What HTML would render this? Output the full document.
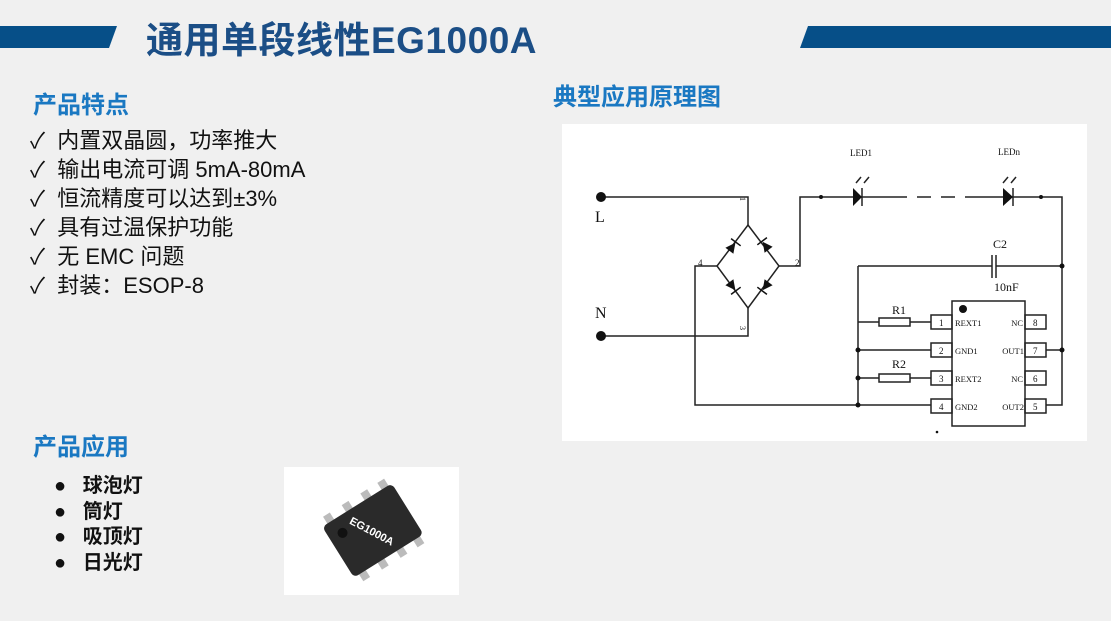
<!DOCTYPE html>
<html><head><meta charset="utf-8">
<style>
body{margin:0;width:1111px;height:621px;background:#f0f0f0;position:relative;overflow:hidden;font-family:"Liberation Sans","Noto Sans CJK SC",sans-serif}
.a{position:absolute;white-space:nowrap}
.h{color:#1a78c2;font-weight:bold;font-size:24px}
.f{font-size:22px;color:#111;line-height:29px}
.p{font-size:20px;font-weight:bold;color:#111}
.p div{height:25.7px;line-height:25.7px}
</style></head><body>
<svg class="a" style="left:0;top:0" width="1111" height="60">
<polygon points="0,26 117,26 109,48 0,48" fill="#064f88"/>
<polygon points="808,26 1111,26 1111,48 800,48" fill="#064f88"/>
</svg>
<div class="a" style="left:146px;top:10px;font-size:37px;font-weight:bold;color:#1b4e86;letter-spacing:0.5px">通用单段线性EG1000A</div>
<div class="a h" style="left:33px;top:85px">产品特点</div>
<div class="a f" style="left:30px;top:126px">
✓&nbsp; 内置双晶圆，功率推大<br>✓&nbsp; 输出电流可调 5mA-80mA<br>✓&nbsp; 恒流精度可以达到±3%<br>✓&nbsp; 具有过温保护功能<br>✓&nbsp; 无 EMC 问题<br>✓&nbsp; 封装：ESOP-8</div>
<div class="a h" style="left:33px;top:427px">产品应用</div>
<div class="a p" style="left:54px;top:474px"><div>●&nbsp;&nbsp; 球泡灯</div><div>●&nbsp;&nbsp; 筒灯</div><div>●&nbsp;&nbsp; 吸顶灯</div><div>●&nbsp;&nbsp; 日光灯</div></div>
<div class="a h" style="left:553px;top:77px">典型应用原理图</div>
<div class="a" style="left:284px;top:467px;width:175px;height:128px;background:#fff"></div>
<svg class="a" style="left:284px;top:467px" width="175" height="128">
<g transform="translate(88,64) rotate(-32)">
<g fill="#bbb"><rect x="-34" y="-38" width="8" height="10"/><rect x="-12" y="-38" width="8" height="10"/><rect x="10" y="-38" width="8" height="10"/><rect x="30" y="-38" width="8" height="10"/>
<rect x="-34" y="28" width="8" height="10"/><rect x="-12" y="28" width="8" height="10"/><rect x="10" y="28" width="8" height="10"/><rect x="30" y="28" width="8" height="10"/></g>
<rect x="-40" y="-30" width="82" height="60" rx="5" fill="#2a2a2a"/>
<circle cx="-26" cy="-14" r="5" fill="#111"/>
<text x="0" y="4" fill="#fff" font-size="11" font-weight="bold" text-anchor="middle" transform="rotate(60)" font-family="Liberation Sans">EG1000A</text>
</g></svg>
<svg class="a" style="left:0;top:0" width="1111" height="621" font-family="Liberation Serif" font-size="9">
<rect x="562" y="124" width="525" height="317" fill="#fff"/>
<g stroke="#222" stroke-width="1.5" fill="none">
<polyline points="601,197 748,197 748,225"/>
<polyline points="601,336 748,336 748,308"/>
<polygon points="748,225 779,266 748,308 717,266"/>
<polyline points="717,266 695,266 695,405 931,405"/>
<polyline points="779,266 800,266 800,197 893,197"/>
<line x1="893" y1="197" x2="968" y2="197" stroke-dasharray="14,10"/>
<polyline points="968,197 1062,197 1062,405 1046,405"/>
<line x1="858" y1="266" x2="992" y2="266"/><line x1="996" y1="266" x2="1062" y2="266"/>
<line x1="992" y1="255" x2="992" y2="278"/><line x1="996" y1="255" x2="996" y2="278"/>
<line x1="858" y1="266" x2="858" y2="405"/>
<line x1="858" y1="322" x2="879" y2="322"/><rect x="879" y="318" width="31" height="8"/><line x1="910" y1="322" x2="931" y2="322"/>
<line x1="858" y1="350" x2="931" y2="350"/>
<line x1="858" y1="378" x2="879" y2="378"/><rect x="879" y="374" width="31" height="8"/><line x1="910" y1="378" x2="931" y2="378"/>
<line x1="1046" y1="350" x2="1062" y2="350"/>
<rect x="952" y="301" width="73" height="125"/>
<rect x="931" y="315" width="21" height="14"/><rect x="931" y="343" width="21" height="14"/><rect x="931" y="371" width="21" height="14"/><rect x="931" y="399" width="21" height="14"/>
<rect x="1025" y="315" width="21" height="14"/><rect x="1025" y="343" width="21" height="14"/><rect x="1025" y="371" width="21" height="14"/><rect x="1025" y="399" width="21" height="14"/>
<line x1="862" y1="188" x2="862" y2="206"/><line x1="1013" y1="188" x2="1013" y2="206"/>
<line x1="856" y1="183" x2="861" y2="177"/><line x1="864" y1="183" x2="869" y2="177"/>
<line x1="1003" y1="183" x2="1008" y2="177"/><line x1="1011" y1="183" x2="1016" y2="177"/>
</g>
<g fill="#111">
<circle cx="601" cy="197" r="5"/><circle cx="601" cy="336" r="5"/>
<polygon points="853,188 853,206 862,197"/><polygon points="1003,188 1003,206 1013,197"/>
<circle cx="821" cy="197" r="2"/><circle cx="1041" cy="197" r="2"/>
<circle cx="1062" cy="266" r="2.5"/><circle cx="1062" cy="350" r="2.5"/>
<circle cx="858" cy="350" r="2.5"/><circle cx="858" cy="378" r="2.5"/><circle cx="858" cy="405" r="2.5"/>
<circle cx="963" cy="309" r="4"/><circle cx="937" cy="432" r="1.3"/>
<g transform="translate(733,246) rotate(-53)"><polygon points="-6,-5 -6,5 4,0"/><rect x="4" y="-6" width="1.5" height="12"/></g>
<g transform="translate(765,245) rotate(53)"><polygon points="6,-5 6,5 -4,0"/><rect x="-5.5" y="-6" width="1.5" height="12"/></g>
<g transform="translate(733,287) rotate(-127)"><polygon points="6,-5 6,5 -4,0"/><rect x="-5.5" y="-6" width="1.5" height="12"/></g>
<g transform="translate(765,287) rotate(127)"><polygon points="-6,-5 -6,5 4,0"/><rect x="4" y="-6" width="1.5" height="12"/></g>
<text x="850" y="156">LED1</text><text x="998" y="155">LEDn</text>
<text x="595" y="222" font-size="16">L</text><text x="595" y="318" font-size="16">N</text>
<text x="993" y="248" font-size="12">C2</text><text x="994" y="291" font-size="12">10nF</text>
<text x="892" y="314" font-size="12">R1</text><text x="892" y="368" font-size="12">R2</text>
<text x="738" y="203" font-size="8" transform="rotate(90 742 201)">1</text>
<text x="738" y="332" font-size="8" transform="rotate(90 742 330)">3</text>
<text x="795" y="266">2</text><text x="698" y="266">4</text>
<text x="939" y="326">1</text><text x="939" y="354">2</text><text x="939" y="382">3</text><text x="939" y="410">4</text>
<text x="1033" y="326">8</text><text x="1033" y="354">7</text><text x="1033" y="382">6</text><text x="1033" y="410">5</text>
<g font-size="8.5"><text x="955" y="326">REXT1</text><text x="955" y="354">GND1</text><text x="955" y="382">REXT2</text><text x="955" y="410">GND2</text>
<g text-anchor="end"><text x="1023" y="326">NC</text><text x="1024" y="354">OUT1</text><text x="1023" y="382">NC</text><text x="1024" y="410">OUT2</text></g></g>
</g></svg>
</body></html>
